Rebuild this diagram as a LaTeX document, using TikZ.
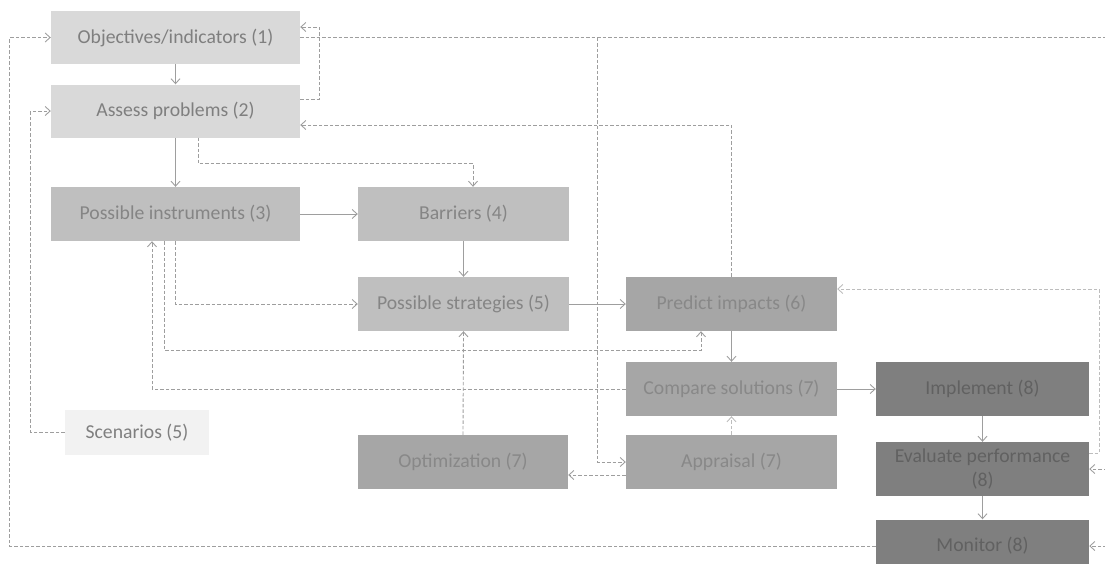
\documentclass[tikz,border=0pt]{standalone}
\usepackage{fontspec}
\setmainfont{Carlito}
\usetikzlibrary{arrows.meta}
\definecolor{fA}{HTML}{D9D9D9}\definecolor{tA}{HTML}{7F7F7F}
\definecolor{fB}{HTML}{BFBFBF}\definecolor{tB}{HTML}{858585}
\definecolor{fC}{HTML}{A6A6A6}\definecolor{tC}{HTML}{888888}
\definecolor{fD}{HTML}{7F7F7F}\definecolor{tD}{HTML}{616161}
\definecolor{fE}{HTML}{F2F2F2}\definecolor{tE}{HTML}{7F7F7F}
\definecolor{ln}{HTML}{9E9E9E}\definecolor{lnl}{HTML}{BDBDBD}
\begin{document}
\begin{tikzpicture}[x=1pt,y=-1pt,
  box/.style={rectangle, inner sep=0pt, anchor=center, align=center,
    font=\fontsize{19.7}{24}\selectfont},
  lvA/.style={box, fill=fA, text=tA},
  lvB/.style={box, fill=fB, text=tB},
  lvC/.style={box, fill=fC, text=tC},
  lvD/.style={box, fill=fD, text=tD},
  lvE/.style={box, fill=fE, text=tE},
  sz/.style 2 args={minimum width=#1pt, minimum height=#2pt},
  sol/.style={draw=ln, line width=0.9pt, -{Straight Barb[length=5pt,width=9pt]}},
  dsh/.style={draw=ln, line width=0.9pt, dash pattern=on 3.5pt off 2pt, -{Straight Barb[length=5pt,width=9pt]}},
  dshl/.style={dsh, draw=lnl}
]
\useasboundingbox (0,0) rectangle (1105,563);
\clip (0,0) rectangle (1105,563);
% nodes
\node[lvA, sz={249}{53}] (obj) at (175.5,37.5) {Objectives/indicators (1)};
\node[lvA, sz={249}{53}] (assess) at (175.5,111) {Assess problems (2)};
\node[lvB, sz={249}{54}] (instr) at (175.5,214) {Possible instruments (3)};
\node[lvB, sz={211}{54}] (barr) at (463.5,214) {Barriers (4)};
\node[lvB, sz={211}{54}] (strat) at (463.5,304) {Possible strategies (5)};
\node[lvC, sz={211}{54}] (pred) at (731.5,304) {Predict impacts (6)};
\node[lvC, sz={211}{54}] (comp) at (731.5,389) {Compare solutions (7)};
\node[lvD, sz={213}{54}] (impl) at (982.5,389) {Implement (8)};
\node[lvE, sz={144}{45}] (scen) at (137,432.5) {Scenarios (5)};
\node[lvC, sz={210}{54}] (opt) at (463,462) {Optimization (7)};
\node[lvC, sz={211}{54}] (appr) at (731.5,462) {Appraisal (7)};
\node[lvD, sz={213}{54}] (eval) at (982.5,469) {Evaluate performance\\(8)};
\node[lvD, sz={213}{53}] (mon) at (982.5,546) {Monitor (8)};
\coordinate (xr) at (1115,37.5);
% connectors
\draw[sol] (obj.south) -- (assess.north);
\draw[sol] (assess.south) -- (instr.north);
\draw[dsh] ([xshift=22.5pt]assess.south) -- ++(0,26) -| ([xshift=9.5pt]barr.north);
\draw[sol] (instr.east) -- (barr.west);
\draw[sol] (barr.south) -- (strat.north);
\draw[dsh] (instr.south) |- (strat.west);
\draw[sol] (strat.east) -- (pred.west);
\draw[dsh] ([xshift=-11.5pt]instr.south) -- ++(0,109) -| ([xshift=-30.5pt]pred.south);
\draw[dsh] (comp.west) -| ([xshift=-23.5pt]instr.south);
\draw[sol] (pred.south) -- (comp.north);
\draw[sol] (comp.east) -- (impl.west);
\draw[sol] (impl.south) -- (eval.north);
\draw[sol] (eval.south) -- (mon.north);
\draw[dsh] (pred.north) |- ([yshift=-14pt]assess.east);
\draw[dsh] ([yshift=12pt]assess.east) -- ++(19,0) |- ([yshift=10.5pt]obj.east);
\draw[dsh] (obj.east) -- ++(297,0) |- (appr.west);
\draw[dsh] (obj.east) -- (xr) |- (eval.east);
\draw[dsh] (xr) |- (mon.east);
\draw[dsh] (mon.west) -- ++(-866,0) |- (obj.west);
\draw[dsh] (scen.west) -- ++(-34,0) |- (assess.west);
\draw[dsh] (opt.north) -- (strat.south);
\draw[dsh] ([yshift=-13pt]appr.west) -- ([yshift=-13pt]opt.east);
\draw[dshl] (appr.north) -- (comp.south);
\draw[dshl] ([yshift=16pt]eval.east) -- ++(10,0) |- ([yshift=15pt]pred.east);
\end{tikzpicture}
\end{document}
